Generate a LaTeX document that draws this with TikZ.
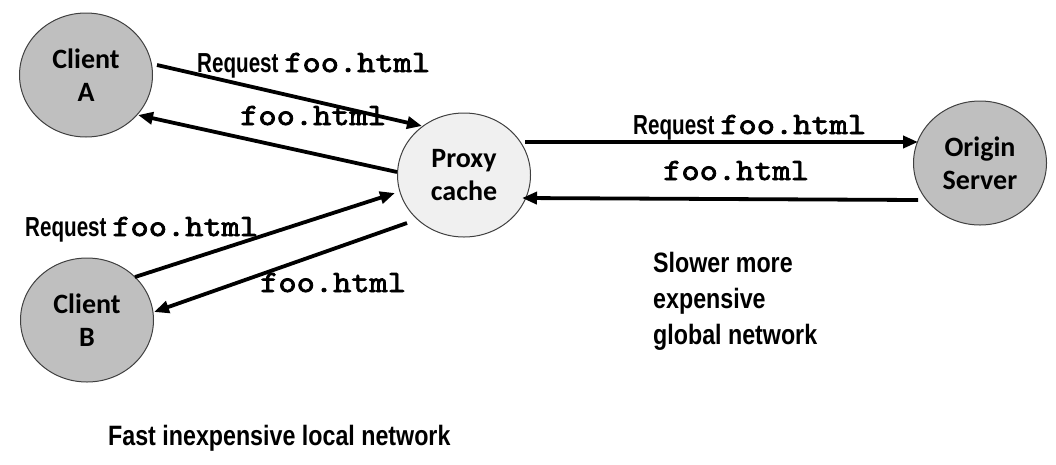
\documentclass[tikz,border=0pt]{standalone}
\usepackage{fontspec}
\setmainfont{Liberation Sans}
\newfontfamily\narrowfont[FakeStretch=0.75]{Liberation Sans}
\newfontfamily\notefont[FakeStretch=0.83]{Liberation Sans}
\newfontfamily\calfont{Carlito}
\newfontfamily\courfont[FakeBold=2.4,FakeStretch=1.12]{lmmono10-regular.otf}
\usetikzlibrary{shapes.geometric,arrows.meta,calc}
\newcommand\foohtml{{\courfont\mdseries\fontsize{31}{31}\selectfont foo.html}}
\begin{document}
\begin{tikzpicture}[x=1pt,y=-1pt,
  host/.style={ellipse,draw=black!75,line width=1pt,inner sep=0pt,
    minimum width=133pt,minimum height=124pt,align=center,
    font=\calfont\bfseries\fontsize{28}{33}\selectfont},
  client/.style={host,fill=black!25},
  proxy/.style={host,fill=black!6},
  msg/.style={line width=3.8pt,-{Triangle[length=15pt,width=12pt]}},
  lbl/.style={inner sep=0pt,anchor=base west,
    font=\narrowfont\bfseries\fontsize{27.5}{30}\selectfont},
  note/.style={inner sep=0pt,align=left,
    font=\notefont\bfseries\fontsize{28}{36}\selectfont}
]
\useasboundingbox (0,0) rectangle (1056,464);

\node[client] (A) at (86,75) {Client\\A};
\node[client] (B) at (87,320) {Client\\B};
\node[proxy]  (P) at (464,175) {Proxy\\cache};
\node[client] (O) at (980,163) {Origin\\Server};

\draw[msg] ($(A)+(71,-10)$) -- ($(P)+(-42,-49)$);
\draw[msg] ($(P)+(-67,-3)$) -- ($(A)+(52,40)$);
\draw[msg] ($(B)+(48,-43)$) -- ($(P)+(-69,18)$);
\draw[msg] ($(P)+(-57,48)$) -- ($(B)+(67,-8)$);
\draw[msg] ($(P)+(61,-33)$) -- ($(O)+(-62,-21)$);
\draw[msg] ($(O)+(-62,37)$) -- ($(P)+(58,23)$);

\node[lbl] (l1) at (197,72) {Request \foohtml};
\node[lbl] (l2) at (240,125) {\foohtml};
\node[lbl] (l3) at (25,236) {Request \foohtml};
\node[lbl] (l4) at (260,292) {\foohtml};
\node[lbl] (l5) at (633,134) {Request \foohtml};
\node[lbl] (l6) at (663,180) {\foohtml};

\node[note,anchor=north west] (slow) at (653,252) {Slower more\\expensive\\global network};
\node[note,anchor=base west] (fast) at (108,445) {Fast inexpensive local network};
\end{tikzpicture}
\end{document}
